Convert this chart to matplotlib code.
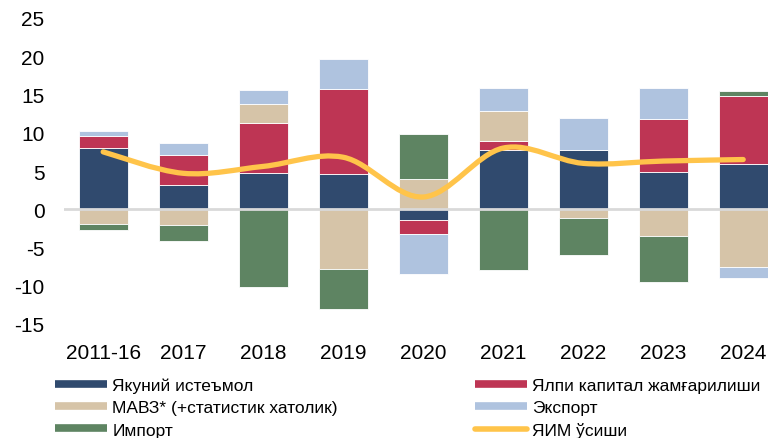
import numpy as np
import matplotlib
matplotlib.use("Agg")
import matplotlib.pyplot as plt
from matplotlib.path import Path
from matplotlib.patches import PathPatch
from matplotlib.lines import Line2D

# ------------------------------------------------------------------
# Datos
# ------------------------------------------------------------------
anios = ["2011-16", "2017", "2018", "2019", "2020", "2021", "2022", "2023", "2024"]

istemol = [8.0, 3.2, 4.7, 4.6, -1.4, 7.8, 7.8, 4.9, 5.9]
kapital = [1.6, 3.9, 6.6, 11.1, -1.9, 1.1, 0.0, 6.9, 8.9]
mavz = [-1.9, -2.1, 2.4, -7.8, 3.9, 4.0, -1.1, -3.5, -7.6]
eksport = [0.6, 1.5, 1.9, 4.0, -5.1, 2.9, 4.1, 4.0, -1.4]
import_ = [-0.8, -2.0, -10.2, -5.3, 5.9, -8.0, -4.9, -6.0, 0.7]
yaim = [7.5, 4.7, 5.6, 6.8, 1.6, 8.0, 6.0, 6.3, 6.5]

series = [
    ("Якуний истеъмол", istemol, "#304A6E"),
    ("Ялпи капитал жамғарилиши", kapital, "#BE3554"),
    ("МАВЗ* (+статистик хатолик)", mavz, "#D6C4A8"),
    ("Экспорт", eksport, "#AFC3DF"),
    ("Импорт", import_, "#5E8462"),
]
COLOR_YAIM = "#FFC44A"

plt.rcParams["font.family"] = ["Liberation Sans", "DejaVu Sans"]
plt.rcParams["axes.unicode_minus"] = False

fig = plt.figure(figsize=(7.68, 4.39), dpi=100)
ax = fig.add_axes([64 / 768, 114 / 439, 704 / 768, 306 / 439])

x = np.arange(len(anios))
ancho = 0.61
pos = np.zeros(len(anios))
neg = np.zeros(len(anios))
for nombre, valores, color in series:
    v = np.array(valores)
    base = np.where(v >= 0, pos, neg)
    ax.bar(x, v, ancho, bottom=base, color=color, edgecolor="white",
           linewidth=0.6, zorder=2)
    pos = pos + np.where(v >= 0, v, 0)
    neg = neg + np.where(v < 0, v, 0)

ax.axhline(0, color="#D9D9D9", lw=2, zorder=3)

# linea suavizada (estilo Excel) con curvas Bezier entre los puntos
y = np.array(yaim)
pts = np.column_stack([x, y])
verts = [pts[0]]
codes = [Path.MOVETO]
n = len(pts)
for i in range(n - 1):
    p0 = pts[i - 1] if i > 0 else pts[i]
    p1 = pts[i]
    p2 = pts[i + 1]
    p3 = pts[i + 2] if i + 2 < n else pts[i + 1]
    c1 = p1 + (p2 - p0) / 6
    c2 = p2 - (p3 - p1) / 6
    verts += [c1, c2, p2]
    codes += [Path.CURVE4] * 3
curva = PathPatch(Path(verts, codes), facecolor="none", edgecolor=COLOR_YAIM,
                  lw=3.8, capstyle="round", joinstyle="round", zorder=4)
ax.add_patch(curva)

ax.set_xlim(-0.49, 8.31)
ax.set_ylim(-15, 25)
ax.set_yticks(range(-15, 26, 5))
ax.set_xticks(x)
ax.set_xticklabels(anios)
ax.tick_params(axis="both", length=0, labelsize=15)
ax.tick_params(axis="y", pad=14)
ax.tick_params(axis="x", pad=14)
for s in ax.spines.values():
    s.set_visible(False)

# leyenda en dos columnas (dos leyendas separadas)
def entrada(color):
    return Line2D([0], [0], color=color, lw=5.5, solid_capstyle="butt")

col1 = [series[0], series[2], series[4]]
col2 = [series[1], series[3]]
h1 = [entrada(c) for _, _, c in col1]
l1 = [nm for nm, _, _ in col1]
h2 = [entrada(c) for _, _, c in col2] + [
    Line2D([0], [0], color=COLOR_YAIM, lw=4, solid_capstyle="round")]
l2 = [nm for nm, _, _ in col2] + ["ЯИМ ўсиши"]

kw = dict(loc="upper left", frameon=False, fontsize=12.5, handlelength=3.0,
          handletextpad=0.3, labelspacing=0.41, borderpad=0, borderaxespad=0)
fig.legend(h1, l1, bbox_to_anchor=(55 / 768, 1 - 378.5 / 439), **kw)
fig.legend(h2, l2, bbox_to_anchor=(475 / 768, 1 - 378.5 / 439), **kw)

fig.savefig("out.png", dpi=100)
